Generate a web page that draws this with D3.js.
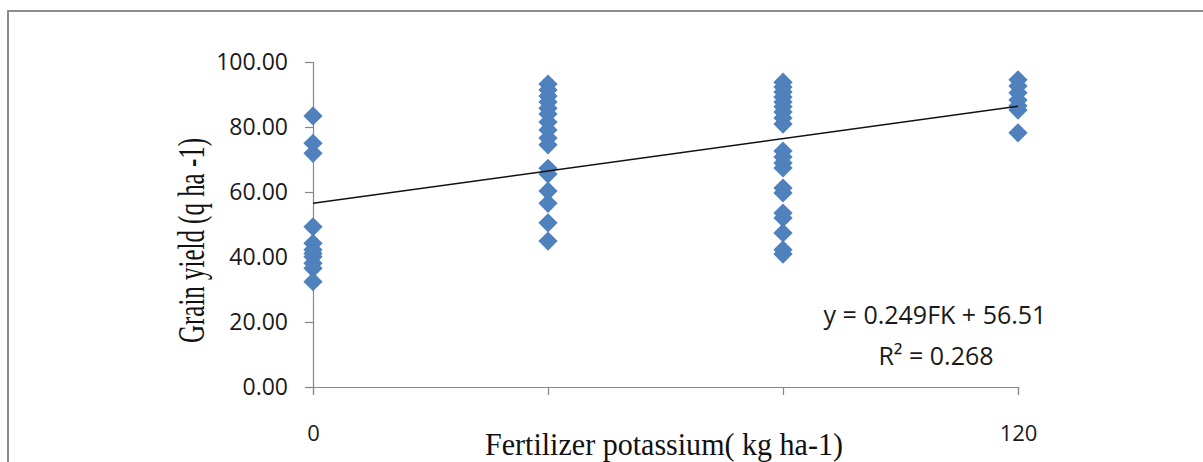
<!DOCTYPE html>
<html>
<head>
<meta charset="utf-8">
<script src="https://cdn.jsdelivr.net/npm/d3@7"></script>
<style>
  body { margin: 0; background: #fff; }
  svg { display: block; }
</style>
</head>
<body>
<div id="chart"></div>
<script>
// fertilizer K levels and grain yield readings
const kLevels = [0, 40, 80, 120];
// the 40 and 80 labels sit under the axis title in the original, so they are blank
const kTickLabels = ["0", "", "", "120"];
const yieldK0 = [83.4, 75.0, 71.9, 49.3, 44.2, 42.2, 41.1, 40.1, 38.1, 36.5, 32.4];
const yieldK40 = [93.2, 91.4, 89.5, 87.7, 85.8, 84.0, 81.5, 79.1, 76.6, 74.5, 67.3, 65.5, 60.3, 56.5, 50.5, 44.9];
const yieldK80 = [93.8, 92.3, 90.8, 89.2, 87.7, 86.2, 84.6, 82.8, 80.9, 72.6, 70.8, 68.9, 67.4, 61.2, 59.7, 53.5, 52.0, 47.4, 42.2, 40.9];
const yieldK120 = [94.5, 92.6, 90.5, 88.3, 86.5, 85.2, 78.2];
const yTicks = [0, 20, 40, 60, 80, 100];

// regression line y = 0.249FK + 56.51
const slope = 0.249;
const intercept = 56.51;
const rSquared = 0.268;

const W = 1203, H = 462;
const margin = { top: 62, right: 185, bottom: 75, left: 313 };
const width = W - margin.left - margin.right;   // 705
const height = H - margin.top - margin.bottom;  // 325

const svg = d3.select("#chart").append("svg")
    .attr("width", W)
    .attr("height", H);

// outer frame (only top/left edges show in the crop)
svg.append("rect")
    .attr("x", 8)
    .attr("y", 11)
    .attr("width", 1300)
    .attr("height", 600)
    .attr("fill", "none")
    .attr("stroke", "#8c8c8c")
    .attr("stroke-width", 2);

const g = svg.append("g")
    .attr("transform", `translate(${margin.left},${margin.top})`);

const x = d3.scaleLinear().domain([0, 120]).range([0, width]);
const y = d3.scaleLinear().domain([0, 100]).range([height, 0]);

// y axis
const yAxis = g.append("g")
    .call(d3.axisLeft(y).tickValues(yTicks).tickSize(8).tickPadding(17).tickFormat(d3.format(".2f")));
yAxis.select(".domain").attr("stroke", "#868686").attr("stroke-width", 1.2);
yAxis.selectAll(".tick line").attr("stroke", "#868686").attr("stroke-width", 1.2);
yAxis.selectAll("text")
    .attr("font-family", "'Open Sans', sans-serif")
    .attr("font-size", "23px")
    .attr("fill", "#1a1a1a");

// x axis
const xAxis = g.append("g")
    .attr("transform", `translate(0,${height})`)
    .call(d3.axisBottom(x).tickValues(kLevels).tickSize(8).tickPadding(30)
        .tickFormat((d, i) => kTickLabels[i]));
xAxis.select(".domain").attr("stroke", "#868686").attr("stroke-width", 1.2);
xAxis.selectAll(".tick line").attr("stroke", "#868686").attr("stroke-width", 1.2);
xAxis.selectAll("text")
    .attr("font-family", "'Open Sans', sans-serif")
    .attr("font-size", "22px")
    .attr("fill", "#1a1a1a");

// points
const points = [];
[yieldK0, yieldK40, yieldK80, yieldK120].forEach((arr, i) => {
    arr.forEach(v => points.push({ k: kLevels[i], v: v }));
});

const diamond = d3.symbol().type(d3.symbolSquare).size(185);
g.selectAll(".pt")
    .data(points)
    .join("path")
    .attr("class", "pt")
    .attr("d", diamond)
    .attr("transform", d => `translate(${x(d.k)},${y(d.v)}) rotate(45)`)
    .attr("fill", "#4f81bd");

// trend line
g.append("line")
    .attr("x1", x(0))
    .attr("y1", y(intercept))
    .attr("x2", x(120))
    .attr("y2", y(slope * 120 + intercept))
    .attr("stroke", "#111")
    .attr("stroke-width", 1.5);

// equation
const eq = g.append("text")
    .attr("font-family", "'Open Sans', sans-serif")
    .attr("font-size", "25px")
    .attr("fill", "#1a1a1a")
    .attr("text-anchor", "middle");
eq.append("tspan")
    .attr("x", 935 - margin.left)
    .attr("y", 324 - margin.top)
    .text(`y = ${slope}FK + ${intercept}`);
eq.append("tspan")
    .attr("x", 936 - margin.left)
    .attr("y", 365 - margin.top)
    .text(`R² = ${rSquared}`);

svg.append("text")
    .attr("x", 485)
    .attr("y", 455)
    .attr("font-family", "'Liberation Serif', serif")
    .attr("font-size", "32px")
    .attr("fill", "#111")
    .attr("textLength", 358)
    .attr("lengthAdjust", "spacingAndGlyphs")
    .text("Fertilizer  potassium( kg ha-1)");

// y axis title, condensed serif
svg.append("text")
    .attr("transform", "translate(204,343) rotate(-90)")
    .attr("font-family", "'Liberation Serif', serif")
    .attr("font-size", "37px")
    .attr("fill", "#111")
    .attr("textLength", 205)
    .attr("lengthAdjust", "spacingAndGlyphs")
    .text("Grain yield (q ha -1)");
</script>
</body>
</html>
